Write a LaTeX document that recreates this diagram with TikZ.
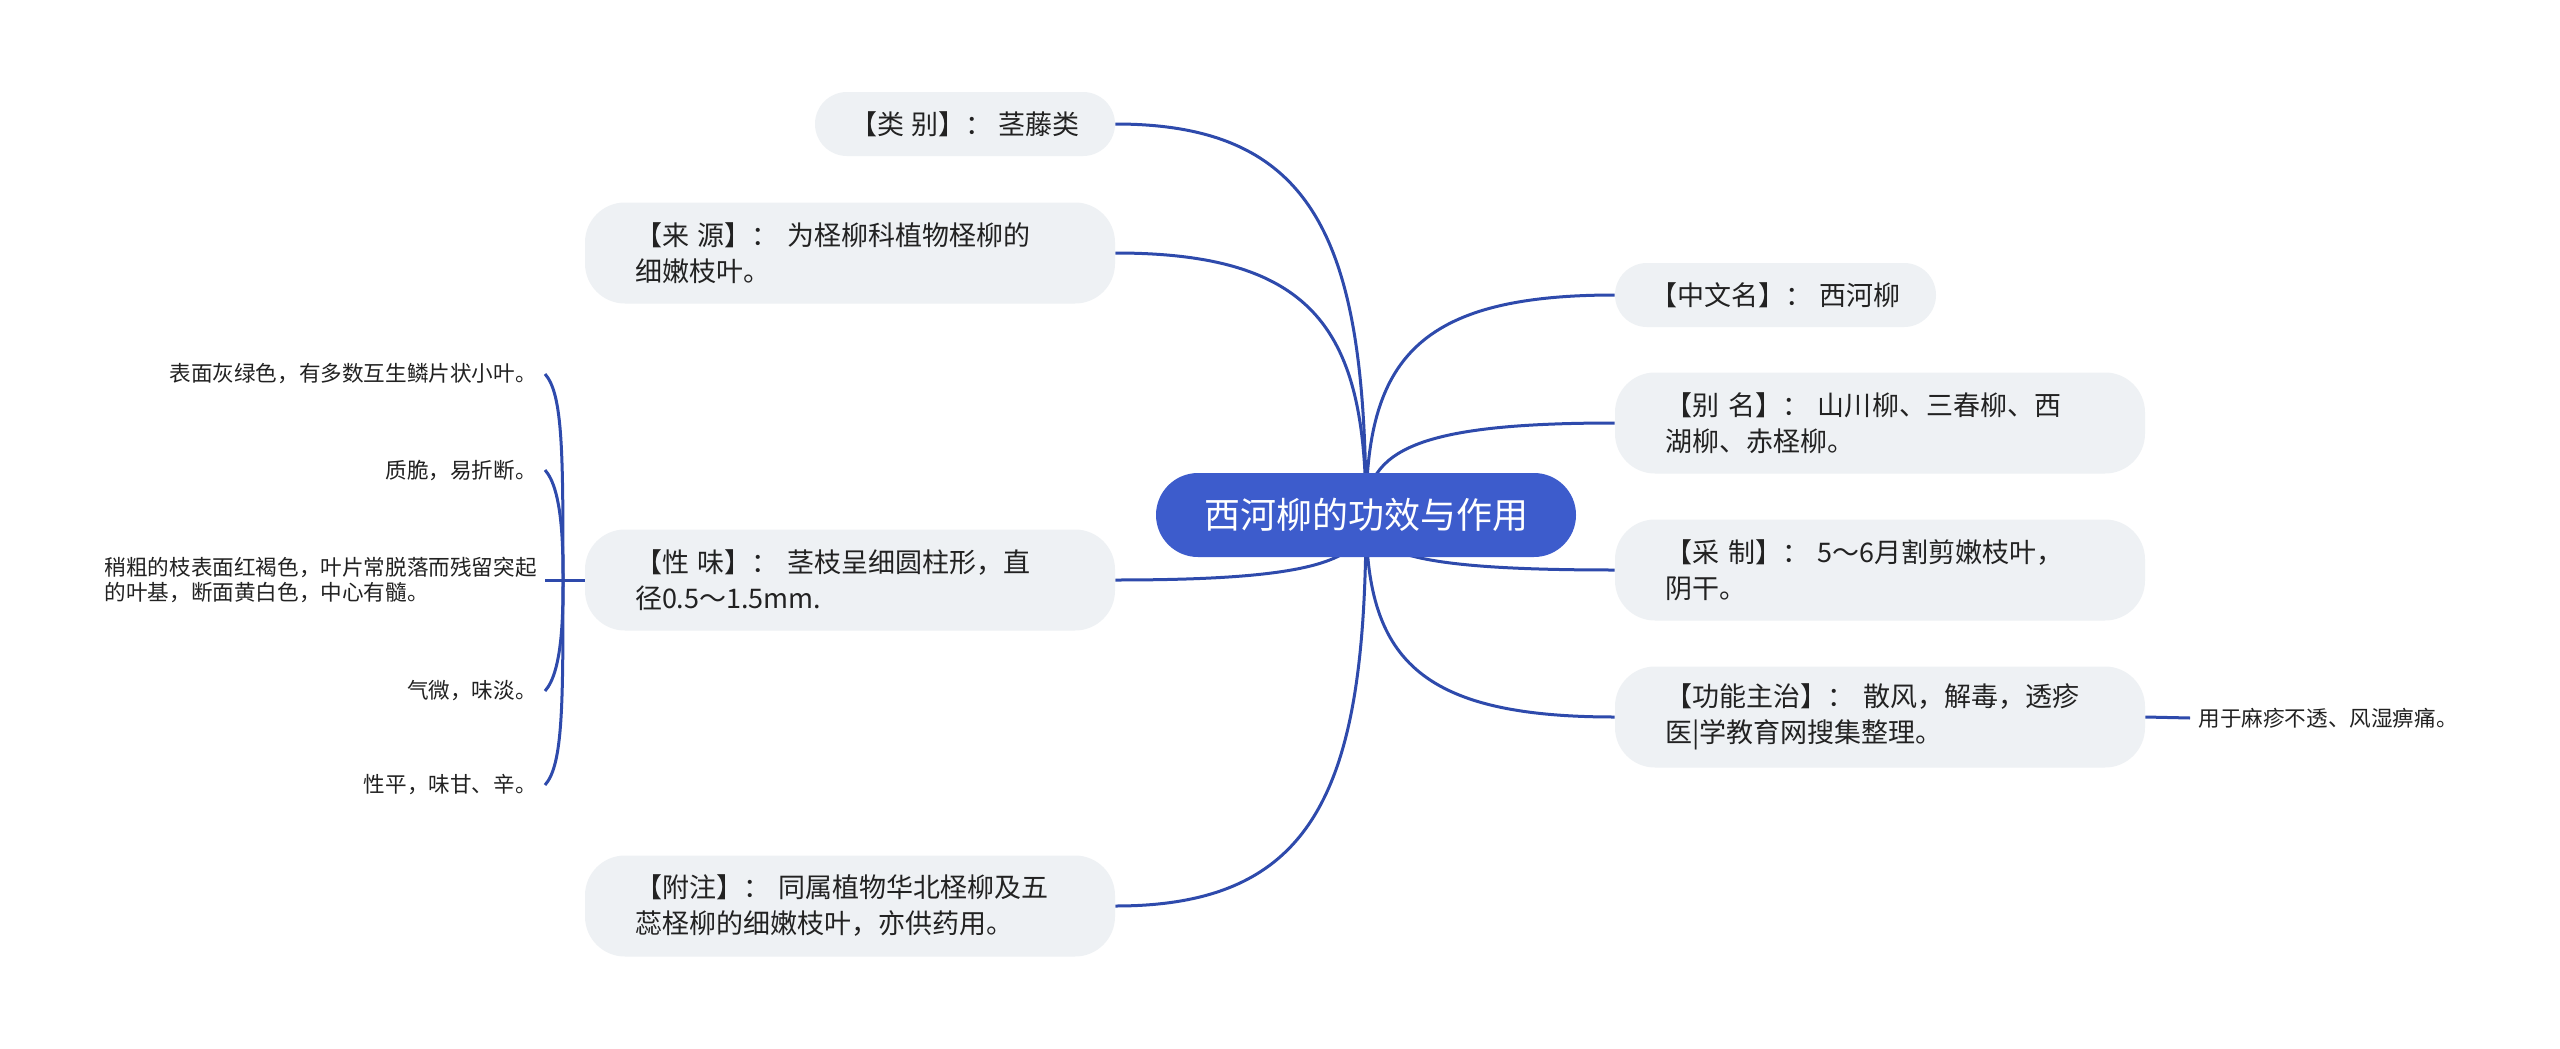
\documentclass[tikz,border=0pt]{standalone}
\usepackage{fontspec}
\setmainfont{Noto Sans CJK SC}
\usetikzlibrary{calc,backgrounds}

\definecolor{rootblue}{RGB}{61,92,204}
\definecolor{linkblue}{RGB}{46,74,172}
\definecolor{boxgray}{RGB}{238,241,244}
\definecolor{ink}{RGB}{34,34,34}

\tikzset{
  topic/.style={fill=boxgray, text=ink, font=\fontsize{13.5}{18}\selectfont},
  oneline/.style={topic, rounded corners=16pt, minimum height=32pt, inner xsep=10pt},
  twoline/.style={topic, rounded corners=20pt, minimum height=50.5pt, text width=215pt, inner xsep=25pt, align=left},
  leaf/.style={text=ink, font=\fontsize{10.8}{12.5}\selectfont, inner sep=4pt},
  link/.style={draw=linkblue, line width=1.5pt},
}

\begin{document}
\begin{tikzpicture}[x=0.5pt, y=-0.5pt]
  \useasboundingbox (0,0) rectangle (2560,1049);

  % root
  \node[fill=rootblue, text=white, rounded corners=21pt, minimum width=210pt, minimum height=42pt, font=\fontsize{18}{22}\selectfont] (root) at (1366,515) {西河柳的功效与作用};

  % left side
  \node[oneline, minimum width=150pt] (lb) at (965,124) {【类 别】：\ 茎藤类};
  \node[twoline] (ly) at (850,253) {【来 源】：\ 为柽柳科植物柽柳的\\细嫩枝叶。};
  \node[twoline] (xw) at (850,580) {【性 味】：\ 茎枝呈细圆柱形，直\\径0.5～1.5mm.};
  \node[twoline] (fz) at (850,906) {【附注】：\ 同属植物华北柽柳及五\\蕊柽柳的细嫩枝叶，亦供药用。};

  % right side
  \node[oneline, minimum width=160.5pt] (zw) at (1775.5,295) {【中文名】：\ 西河柳};
  \node[twoline] (bm) at (1880,423) {【别 名】：\ 山川柳、三春柳、西\\湖柳、赤柽柳。};
  \node[twoline] (cz) at (1880,570) {【采 制】：\ 5～6月割剪嫩枝叶，\\阴干。};
  \node[twoline] (gn) at (1880,717) {【功能主治】：\ 散风，解毒，透疹\\医|学教育网搜集整理。};
  \node[leaf, anchor=west] (gnl) at (2190,718) {用于麻疹不透、风湿痹痛。};

  % leaves of xw
  \node[leaf, anchor=east] (x1) at (545,374) {表面灰绿色，有多数互生鳞片状小叶。};
  \node[leaf, anchor=east] (x2) at (545,470) {质脆，易折断。};
  \node[leaf, anchor=east, align=left] (x3) at (545,580) {稍粗的枝表面红褐色，叶片常脱落而残留突起\\的叶基，断面黄白色，中心有髓。};
  \node[leaf, anchor=east] (x4) at (545,691) {气微，味淡。};
  \node[leaf, anchor=east] (x5) at (545,785) {性平，味甘、辛。};
  \coordinate (xwj) at (563,580);

  \begin{scope}[on background layer]
    \fill[white] (0,0) rectangle (2560,1049);
    \foreach \c/\a in {lb/east, ly/east, xw/east, fz/east, zw/west, bm/west, cz/west, gn/west}
      \draw[link] (root.center) .. controls ($(root.center)!0.7!(root.center |- \c.\a)$) and ($(\c.\a)!0.8!(root.center |- \c.\a)$) .. (\c.\a);
  \end{scope}
  \draw[link] (gn.east) -- (gnl.west);

  % bracket
  \draw[link] (xw.west) -- (xw.west -| x3.east);
  \foreach \n/\s in {x1/-1, x2/-1, x4/1, x5/1}
    \draw[link] (xwj) .. controls ([yshift=\s*40pt]xwj |- \n.east) and ([yshift=\s*10pt]xwj |- \n.east) .. (\n.east);
\end{tikzpicture}
\end{document}
